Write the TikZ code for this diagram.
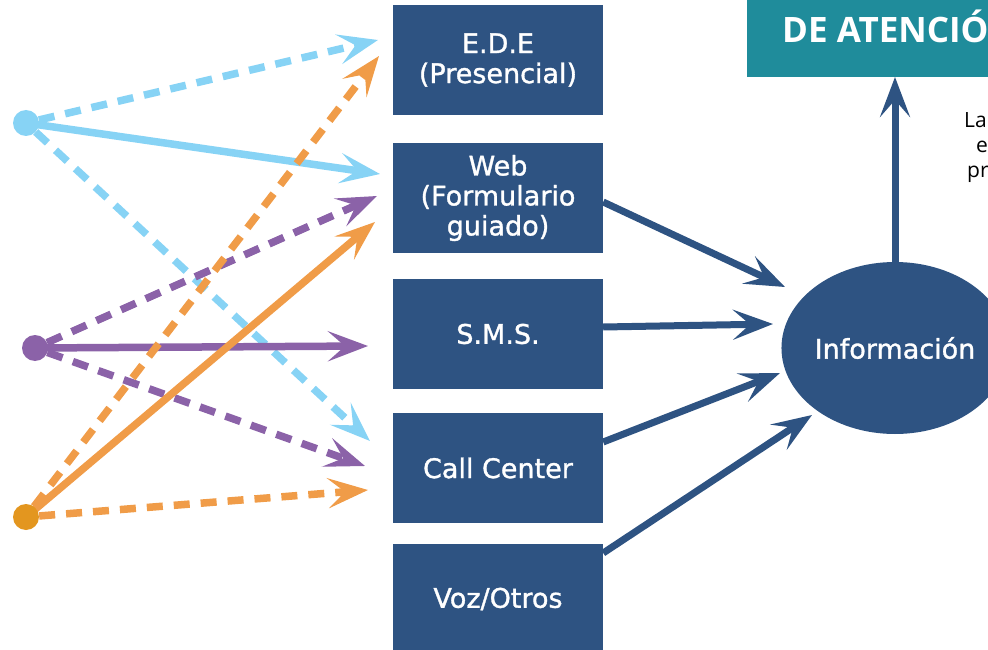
\documentclass[tikz,border=0pt]{standalone}
\usepackage{fontspec}
\newfontfamily\boxfont[FakeBold=1.2]{DejaVu Sans}
\newfontfamily\headfont{Open Sans}
\usetikzlibrary{arrows.meta,shapes.geometric}
\definecolor{navy}{HTML}{2E5382}
\definecolor{teal2}{HTML}{1F8C9B}
\definecolor{lblue}{HTML}{87D3F5}
\definecolor{lpurple}{HTML}{8B62A8}
\definecolor{lorange}{HTML}{F09C48}
\definecolor{dorange}{HTML}{E3961F}
\tikzset{
  chan/.style={fill=navy, minimum width=210pt, minimum height=110pt, inner sep=0pt,
    text=white, align=center, font=\boxfont\fontsize{27}{30}\selectfont},
  dot/.style={circle, inner sep=0pt, minimum size=26pt},
  tipA/.style={-{Stealth[length=40pt,width=30pt,inset=17pt]}},
  navyarrow/.style={draw=navy, line width=7pt, tipA},
  colline/.style={line width=7.5pt, tipA},
  dsh/.style={dash pattern=on 16pt off 11pt},
  sidetext/.style={font=\headfont\fontsize{21}{24}\selectfont, anchor=base west, inner sep=0pt, text=black}
}
\begin{document}
\begin{tikzpicture}[x=1pt,y=-1pt]
\useasboundingbox (0,0) rectangle (988,650);
\clip (0,0) rectangle (988,650);
% top heading box
\fill[teal2] (747,-20) rectangle (1010,77);
\node[anchor=base west, inner sep=0pt, text=white, font=\headfont\bfseries\fontsize{35}{38}\selectfont] (head) at (782,43) {DE ATENCIÓN};
\coordinate (topbot) at (895,77);
% side text
\node[sidetext] (s1) at (964,128) {La};
\node[sidetext] (s2) at (976,153) {e};
\node[sidetext] (s3) at (967,177) {pr};
% channel boxes
\node[chan] (ede) at (498,60) {E.D.E\\(Presencial)};
\node[chan] (web) at (498,198) {Web\\(Formulario\\guiado)};
\node[chan] (sms) at (498,334) {S.M.S.};
\node[chan] (cc) at (498,468) {Call Center};
\node[chan] (voz) at (498,599) {Voz/Otros};
% ellipse
\node[ellipse, fill=navy, minimum width=208pt, minimum height=172pt, inner sep=0pt,
  text=white, font=\boxfont\fontsize{27}{30}\selectfont] (info) at (895,348) {Información};
% dots
\node[dot] (b1) at (26,123) {};
\node[dot] (p1) at (35,348) {};
\node[dot] (o1) at (26,517) {};
% targets
\coordinate (tb1) at (378,40);
\coordinate (tb2) at (380,174);
\coordinate (tb3) at (370,441);
\coordinate (tp1) at (377,196);
\coordinate (tp2) at (368,346);
\coordinate (tp3) at (365,466);
\coordinate (to1) at (379,56);
\coordinate (to2) at (375,222);
\coordinate (to3) at (368,490);
\coordinate (ti1) at (785,287);
\coordinate (ti2) at (773,324);
\coordinate (ti3) at (780,373);
\coordinate (ti4) at (812,415);
% light blue
\draw[colline, lblue, dsh] (b1) -- (tb1);
\draw[colline, lblue] (b1.center) -- (tb2);
\draw[colline, lblue, dsh] (b1) -- (tb3);
% purple
\draw[colline, lpurple, dsh] (p1) -- (tp1);
\draw[colline, lpurple] (p1.center) -- (tp2);
\draw[colline, lpurple, dsh] (p1) -- (tp3);
% orange
\draw[colline, lorange, dsh] (o1) -- (to1);
\draw[colline, lorange] (o1.center) -- (to2);
\draw[colline, lorange, dsh] (o1) -- (to3);
% dots on top
\fill[lblue] (b1) circle (13pt);
\fill[lpurple] (p1) circle (13pt);
\fill[dorange] (o1) circle (13pt);
% navy arrows
\draw[navyarrow] ([yshift=-4pt]web.east) -- (ti1);
\draw[navyarrow] ([yshift=7pt]sms.east) -- (ti2);
\draw[navyarrow] ([yshift=26pt]cc.east) -- (ti3);
\draw[navyarrow] ([yshift=46pt]voz.east) -- (ti4);
\draw[navyarrow] (info.north) -- (topbot);
\end{tikzpicture}
\end{document}
